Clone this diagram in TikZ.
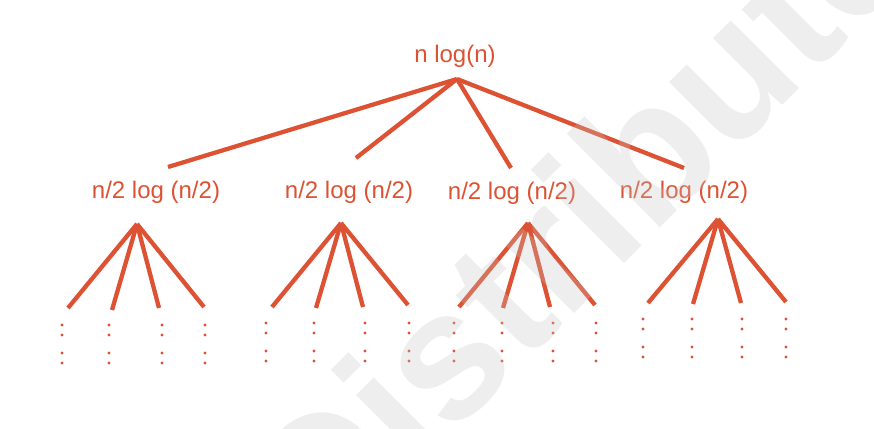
\documentclass[tikz,border=0pt]{standalone}
\usepackage{fontspec}
\setmainfont{Liberation Sans}
\definecolor{tree}{RGB}{222,82,52}
\definecolor{wmgray}{RGB}{196,196,196}
\begin{document}
\begin{tikzpicture}[x=1pt,y=-1pt,
  lbl/.style={text=tree,font=\fontsize{24}{28}\selectfont,inner sep=0pt,anchor=base},
  branch/.style={draw=tree,line width=4.3pt},
  dotmark/.style={fill=tree,circle,inner sep=0pt,minimum size=3.2pt},
  wmark/.style={text=wmgray,text opacity=0.28,font=\fontsize{182}{182}\selectfont\bfseries,anchor=base west,rotate=45,inner sep=0pt}]
\useasboundingbox (0,0) rectangle (874,428);
\clip (0,0) rectangle (874,428);
\fill[white] (0,0) rectangle (874,428);
% root
\node[lbl] (root) at (455,63) {n log(n)};
\coordinate (rtip) at (457,79);
% level 1 labels
\node[lbl] (c1) at (156,198) {n/2 log (n/2)};
\node[lbl] (c2) at (349,198) {n/2 log (n/2)};
\node[lbl] (c3) at (512,199) {n/2 log (n/2)};
\node[lbl] (c4) at (684,198) {n/2 log (n/2)};
% connector ends above the labels
\coordinate (t1) at (168,167);
\coordinate (t2) at (356,158);
\coordinate (t3) at (511,168);
\coordinate (t4) at (684,168);
\foreach \k in {1,...,4} { \draw[branch] (rtip) -- (t\k); }
% fans
\foreach \k/\ax/\ay in {1/137/224, 2/341/223, 3/528/223, 4/718/219} {
  \coordinate (a\k) at (\ax,\ay);
}
\foreach \k/\j/\x/\y/\dx/\dy in {
  1/1/68/308/62/325, 1/2/112/310/109/325, 1/3/159/308/162/325, 1/4/204/307/205/325,
  2/1/272/307/266/323, 2/2/316/308/314/323, 2/3/363/307/365/323, 2/4/408/305/409/323,
  3/1/459/307/454/323, 3/2/503/308/502/323, 3/3/550/307/553/323, 3/4/595/305/596/323,
  4/1/648/303/643/319, 4/2/693/304/692/319, 4/3/741/303/742/319, 4/4/786/302/786/319} {
  \coordinate (l\k\j) at (\x,\y);
  \draw[branch] (a\k) -- (l\k\j);
  \foreach \o in {0,10,28,38} { \node[dotmark] (d\k\j\o) at (\dx,\dy+\o) {}; }
}
% watermark
\node[wmark] (wm) at (322,566) {Distribute};
\end{tikzpicture}
\end{document}
